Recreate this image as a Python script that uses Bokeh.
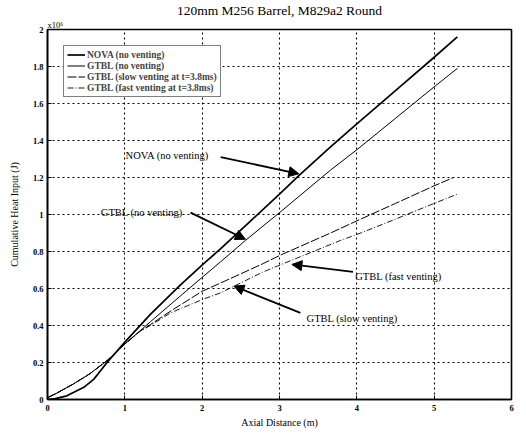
from bokeh.plotting import figure
from bokeh.models import (Range1d, FixedTicker, Label, Arrow, NormalHead, Legend, LegendItem, Title)
from bokeh.embed import file_html
from bokeh.resources import INLINE

# ---------------- data ----------------
title = "120mm M256 Barrel, M829a2 Round"
x_ticks = [0, 1, 2, 3, 4, 5, 6]
y_ticks = [0, 0.2, 0.4, 0.6, 0.8, 1.0, 1.2, 1.4, 1.6, 1.8, 2.0]
y_tick_labels = ["0", "0.2", "0.4", "0.6", "0.8", "1", "1.2", "1.4", "1.6", "1.8", "2"]

nova_x = [0, 0.1, 0.25, 0.47, 0.6, 0.77, 1.0, 1.33, 1.72, 2.02, 2.24, 2.6, 3.0, 3.25, 3.66, 4.0, 4.5, 5.0, 5.3]
nova_y = [0, 0.005, 0.02, 0.066, 0.11, 0.20, 0.31, 0.46, 0.62, 0.735, 0.815, 0.955, 1.11, 1.21, 1.365, 1.49, 1.67, 1.85, 1.96]

gtbl_x = [0, 0.1, 0.34, 0.55, 0.77, 1.0, 1.33, 1.72, 2.0, 2.24, 2.56, 3.0, 3.66, 4.0, 4.5, 5.0, 5.3]
gtbl_y = [0.01, 0.03, 0.085, 0.14, 0.21, 0.30, 0.42, 0.56, 0.66, 0.745, 0.86, 1.01, 1.24, 1.35, 1.52, 1.69, 1.79]

slow_x = [0, 0.1, 0.34, 0.55, 0.77, 1.0, 1.2, 1.33, 1.6, 2.0, 2.24, 2.79, 3.01, 3.66, 4.05, 4.5, 5.0, 5.25]
slow_y = [0.01, 0.03, 0.085, 0.14, 0.21, 0.30, 0.37, 0.405, 0.48, 0.585, 0.63, 0.735, 0.78, 0.90, 0.975, 1.06, 1.155, 1.20]

fast_x = [0, 0.1, 0.34, 0.55, 0.77, 1.0, 1.2, 1.33, 1.6, 2.0, 2.24, 2.79, 3.2, 3.79, 4.05, 4.5, 5.0, 5.3]
fast_y = [0.01, 0.03, 0.085, 0.14, 0.21, 0.30, 0.37, 0.40, 0.47, 0.54, 0.577, 0.69, 0.76, 0.86, 0.90, 0.975, 1.06, 1.11]

legend_labels = ["NOVA (no venting)", "GTBL (no venting)",
                 "GTBL (slow venting at t=3.8ms)", "GTBL (fast venting at t=3.8ms)"]

# annotations: text, text anchor (x, y), arrow start, arrow end (data units)
ann_text = ["NOVA (no venting)", "GTBL (no venting)", "GTBL (fast venting)", "GTBL (slow venting)"]
ann_tx = [1.01, 0.69, 3.98, 3.35]
ann_ty = [1.317, 1.01, 0.667, 0.44]
arr_x0 = [2.24, 1.85, 3.95, 3.27]
arr_y0 = [1.31, 1.01, 0.69, 0.468]
arr_x1 = [3.25, 2.56, 3.16, 2.41]
arr_y1 = [1.22, 0.866, 0.73, 0.613]

SERIF = "Liberation Serif"

p = figure(width=526, height=433, output_backend="svg", toolbar_location=None,
           x_range=Range1d(0, 6), y_range=Range1d(0, 2),
           min_border_left=47, min_border_right=15, min_border_top=27, min_border_bottom=34)

p.add_layout(Title(text="x10\u2076", align="left", text_font=SERIF, text_font_style="normal",
                   text_font_size="8.5px", offset=0, standoff=0, text_color="black"), "above")
p.add_layout(Title(text=title, align="center", text_font=SERIF, text_font_style="normal",
                   text_font_size="13.5px", offset=0, standoff=0, text_color="black"), "above")

p.background_fill_color = "white"
p.border_fill_color = "white"
p.outline_line_color = "black"
p.outline_line_width = 1.6

for ax in (p.xaxis[0], p.yaxis[0]):
    ax.axis_line_width = 1.6
    ax.axis_line_color = "black"
    ax.major_tick_line_color = "black"
    ax.major_tick_in = 4
    ax.major_tick_out = 0
    ax.minor_tick_in = 0
    ax.minor_tick_out = 0
    ax.major_label_text_font = SERIF
    ax.major_label_text_font_style = "bold"
    ax.major_label_text_font_size = "8.5px"
    ax.major_label_text_color = "black"
    ax.axis_label_text_font = SERIF
    ax.axis_label_text_font_style = "normal"
    ax.axis_label_text_font_size = "10px"
    ax.axis_label_text_color = "black"

p.xaxis.ticker = FixedTicker(ticks=x_ticks)
p.yaxis.ticker = FixedTicker(ticks=y_ticks)
p.yaxis.major_label_overrides = {t: l for t, l in zip(y_ticks, y_tick_labels)}
p.xaxis.axis_label = "Axial Distance (m)"
p.yaxis.axis_label = "Cumulative Heat Input (J)"
p.xaxis.major_label_standoff = 5
p.yaxis.major_label_standoff = 4
p.xaxis.axis_label_standoff = 3
p.yaxis.axis_label_standoff = 10

p.xgrid.ticker = FixedTicker(ticks=x_ticks)
p.ygrid.ticker = FixedTicker(ticks=y_ticks)
p.grid.grid_line_color = "black"
p.grid.grid_line_dash = "2 3"
p.grid.grid_line_width = 1.1
p.grid.grid_line_alpha = 1.0

r_nova = p.line(nova_x, nova_y, line_color="black", line_width=1.7)
r_gtbl = p.line(gtbl_x, gtbl_y, line_color="black", line_width=1.0)
r_slow = p.line(slow_x, slow_y, line_color="black", line_width=1.0, line_dash="9 2")
r_fast = p.line(fast_x, fast_y, line_color="black", line_width=0.9, line_dash="6 2 1 2")

legend = Legend(items=[LegendItem(label=l, renderers=[r]) for l, r in
                       zip(legend_labels, [r_nova, r_gtbl, r_slow, r_fast])],
                location="top_left", margin=16, padding=3, spacing=0,
                label_text_font=SERIF, label_text_font_size="9.5px", label_text_font_style="bold",
                label_height=11, glyph_height=11, glyph_width=18, label_standoff=2,
                border_line_color="black", border_line_width=1.3,
                background_fill_color="white", background_fill_alpha=1.0)
p.add_layout(legend)

for t, tx, ty in zip(ann_text, ann_tx, ann_ty):
    p.add_layout(Label(x=tx, y=ty, text=t, text_font=SERIF, text_font_size="10.5px",
                       text_baseline="middle", text_align="left", text_color="black"))
for x0, y0, x1, y1 in zip(arr_x0, arr_y0, arr_x1, arr_y1):
    p.add_layout(Arrow(x_start=x0, y_start=y0, x_end=x1, y_end=y1, line_width=1.8,
                       line_color="black",
                       end=NormalHead(size=10, fill_color="black", line_color="black", line_width=1)))

open("out.html", "w").write(file_html(p, INLINE))
